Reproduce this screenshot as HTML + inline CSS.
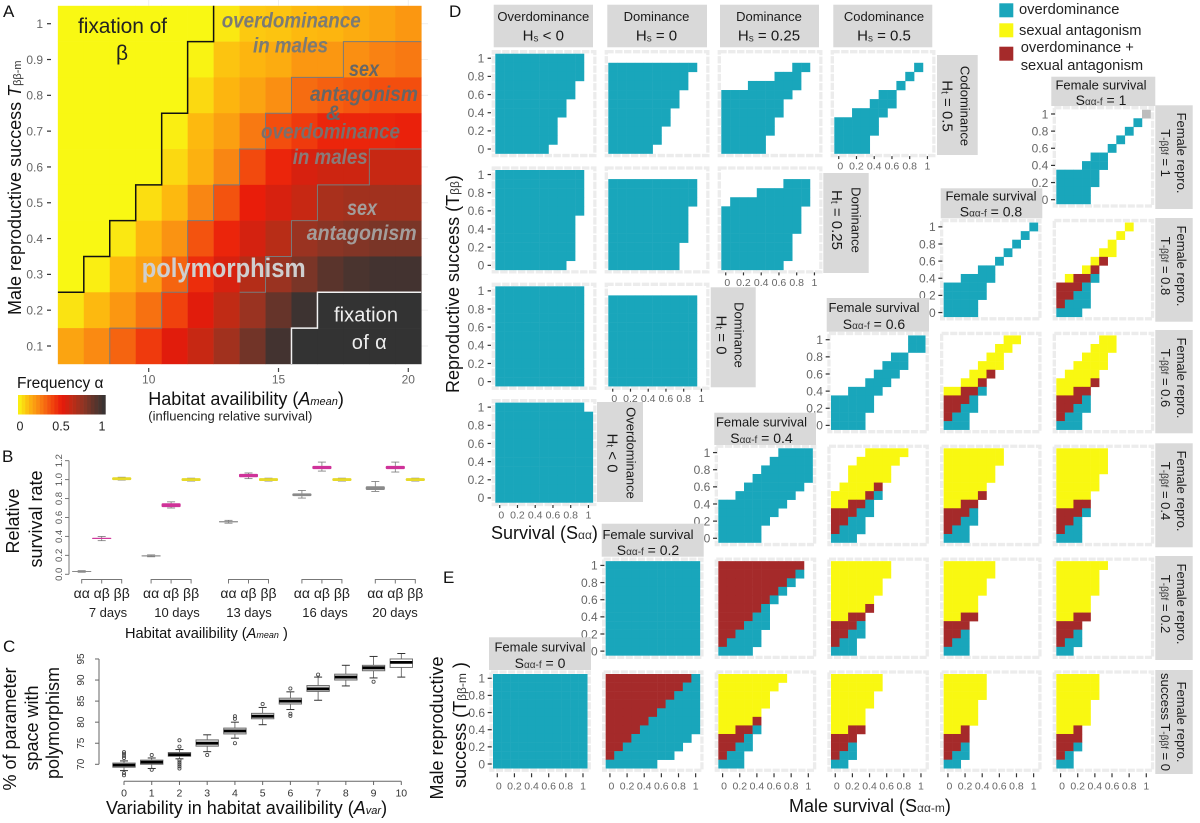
<!DOCTYPE html>
<html lang="en">
<head>
<meta charset="utf-8">
<title>Polymorphism parameter space figure</title>
<style>
html,body{margin:0;padding:0;background:#fff;}
#figure{display:block;width:1200px;height:823px;font-family:"Liberation Sans",sans-serif;filter:blur(0.35px);}
text{font-family:"Liberation Sans",sans-serif;}
.strip{fill:#d9d9d9;}
.st{font-size:13px;fill:#1a1a1a;text-anchor:middle;}
.sv{font-size:15px;fill:#1a1a1a;text-anchor:middle;}
.sf{font-size:14px;fill:#1a1a1a;text-anchor:middle;}
.sub{font-size:10px;fill:#333;}
.lab{fill:#111;font-size:18px;}
.rot{font-size:18px;fill:#111;text-anchor:middle;}
.ann{font-weight:bold;font-style:italic;font-size:21px;}
.leg{font-size:14.7px;fill:#222;}
.pl{font-size:17px;fill:#111;}
</style>
</head>
<body>
<svg id="figure" xmlns="http://www.w3.org/2000/svg" width="1200" height="823" viewBox="0 0 1200 823">
  <defs>
    <clipPath id="heat-clip"><rect x="57.8" y="5.8" width="363.5" height="358.2"/></clipPath>
  </defs>
  <rect x="0" y="0" width="1200" height="823" fill="#fff"/>
  <g id="panel-a"></g>
  <g id="panel-b"></g>
  <g id="panel-c"></g>
  <g id="panel-d"></g>
  <g id="panel-e"></g>

  <!-- panel letters -->
  <text class="pl" x="3" y="17">A</text>
  <text class="pl" x="2" y="462">B</text>
  <text class="pl" x="3" y="652">C</text>
  <text class="pl" x="449" y="17">D</text>
  <text class="pl" x="443" y="583">E</text>

  <!-- panel A annotations -->
  <g>
    <text x="78" y="33" font-size="21" fill="#222" textLength="89">fixation of</text>
    <text x="122" y="60" font-size="21" fill="#222" text-anchor="middle">β</text>
    <text class="ann" x="221.7" y="27.3" fill="#7b7b74" textLength="139" lengthAdjust="spacingAndGlyphs">overdominance</text>
    <text class="ann" x="253" y="52.7" fill="#7b7b74" textLength="75" lengthAdjust="spacingAndGlyphs">in males</text>
    <text class="ann" x="349" y="76" fill="#666" textLength="30" lengthAdjust="spacingAndGlyphs">sex</text>
    <text class="ann" x="310" y="101" fill="#666" textLength="108" lengthAdjust="spacingAndGlyphs">antagonism</text>
    <text class="ann" x="326" y="120" fill="#666">&amp;</text>
    <text class="ann" x="261" y="138.3" fill="#7b6f6c" textLength="139" lengthAdjust="spacingAndGlyphs">overdominance</text>
    <text class="ann" x="292.7" y="164" fill="#8a7a78" textLength="75" lengthAdjust="spacingAndGlyphs">in males</text>
    <text class="ann" x="347" y="215" fill="#a39d9b" textLength="30" lengthAdjust="spacingAndGlyphs">sex</text>
    <text class="ann" x="306.7" y="240" fill="#a39d9b" textLength="110" lengthAdjust="spacingAndGlyphs">antagonism</text>
    <text x="141.7" y="277" font-size="27" font-weight="bold" fill="#cfcfcf" textLength="164" lengthAdjust="spacingAndGlyphs">polymorphism</text>
    <text x="334" y="321.7" font-size="20" fill="#eee" textLength="64">fixation</text>
    <text x="351.7" y="349" font-size="20" fill="#eee" textLength="35">of α</text>
  </g>

  <!-- panel A axes text -->
  <text class="lab" transform="translate(21,315) rotate(-90)" font-size="18.3">Male reproductive success <tspan font-style="italic">T</tspan><tspan font-size="11" fill="#333">ββ-m</tspan></text>
  <text class="lab" x="148.3" y="405">Habitat availibility (<tspan font-style="italic">A</tspan><tspan font-style="italic" font-size="11">mean</tspan>)</text>
  <text x="148.3" y="420.5" font-size="13" fill="#222" textLength="164">(influencing relative survival)</text>
  <text x="17" y="388" font-size="15.5" fill="#111">Frequency α</text>

  <!-- panel B text -->
  <text class="rot" transform="translate(19,521) rotate(-90)">Relative</text>
  <text class="rot" transform="translate(42,519) rotate(-90)">survival rate</text>
  <text x="108" y="617" font-size="13" fill="#222" text-anchor="middle">7 days</text>
  <text x="177" y="617" font-size="13" fill="#222" text-anchor="middle">10 days</text>
  <text x="249" y="617" font-size="13" fill="#222" text-anchor="middle">13 days</text>
  <text x="325" y="617" font-size="13" fill="#222" text-anchor="middle">16 days</text>
  <text x="395" y="617" font-size="13" fill="#222" text-anchor="middle">20 days</text>
  <text x="125" y="638" font-size="14.6" fill="#111">Habitat availibility (<tspan font-style="italic">A</tspan><tspan font-style="italic" font-size="9">mean</tspan> )</text>

  <!-- panel C text -->
  <text class="rot" transform="translate(16,729) rotate(-90)">% of parameter</text>
  <text class="rot" transform="translate(38,728) rotate(-90)">space with</text>
  <text class="rot" transform="translate(59,723) rotate(-90)">polymorphism</text>
  <text class="lab" x="106" y="814">Variability in habitat availibility (<tspan font-style="italic">A</tspan><tspan font-style="italic" font-size="11">var</tspan>)</text>

  <!-- panel D top strips -->
  <g>
    <g><rect class="strip" x="493.7" y="4.7" width="99.3" height="42.6"/><text class="st" x="543.3" y="21">Overdominance</text><text class="sv" x="543.3" y="40.5">H<tspan class="sub" dy="1">s</tspan><tspan dy="-1"> &lt; 0</tspan></text></g>
    <g><rect class="strip" x="607.3" y="4.7" width="99.7" height="42.6"/><text class="st" x="656.5" y="21">Dominance</text><text class="sv" x="656.5" y="40.5">H<tspan class="sub" dy="1">s</tspan><tspan dy="-1"> = 0</tspan></text></g>
    <g><rect class="strip" x="720" y="4.7" width="99" height="42.6"/><text class="st" x="769" y="21">Dominance</text><text class="sv" x="769" y="40.5">H<tspan class="sub" dy="1">s</tspan><tspan dy="-1"> = 0.25</tspan></text></g>
    <g><rect class="strip" x="833.3" y="4.7" width="99" height="42.6"/><text class="st" x="884" y="21">Codominance</text><text class="sv" x="884" y="40.5">H<tspan class="sub" dy="1">s</tspan><tspan dy="-1"> = 0.5</tspan></text></g>
  </g>

  <!-- panel D side strips -->
  <g>
    <g><rect class="strip" x="937" y="55" width="40.7" height="100"/><text class="st" transform="translate(960.5,106) rotate(90)">Codominance</text><text class="sv" transform="translate(942.5,106) rotate(90)">H<tspan class="sub" dy="1">t</tspan><tspan dy="-1"> = 0.5</tspan></text></g>
    <g><rect class="strip" x="823.3" y="173" width="45.4" height="100"/><text class="st" transform="translate(851.5,220) rotate(90)">Dominance</text><text class="sv" transform="translate(832,220) rotate(90)">H<tspan class="sub" dy="1">t</tspan><tspan dy="-1"> = 0.25</tspan></text></g>
    <g><rect class="strip" x="710.7" y="287.3" width="45" height="100"/><text class="st" transform="translate(734.5,335) rotate(90)">Dominance</text><text class="sv" transform="translate(716.5,335) rotate(90)">H<tspan class="sub" dy="1">t</tspan><tspan dy="-1"> = 0</tspan></text></g>
    <g><rect class="strip" x="597" y="402" width="46" height="100"/><text class="st" transform="translate(626.5,453) rotate(90)">Overdominance</text><text class="sv" transform="translate(607.5,453) rotate(90)">H<tspan class="sub" dy="1">t</tspan><tspan dy="-1"> &lt; 0</tspan></text></g>
  </g>

  <!-- female survival strips -->
  <g>
    <g><rect class="strip" x="1051.3" y="76.7" width="104" height="29.3"/><text class="st" x="1101" y="89.5">Female survival</text><text class="sf" x="1101" y="105">S<tspan class="sub">αα-f</tspan> = 1</text></g>
    <g><rect class="strip" x="940.7" y="188.3" width="101.6" height="30"/><text class="st" x="991" y="200.5">Female survival</text><text class="sf" x="991" y="216.5">S<tspan class="sub">αα-f</tspan> = 0.8</text></g>
    <g><rect class="strip" x="826.7" y="298" width="102.3" height="33.7"/><text class="st" x="874" y="312">Female survival</text><text class="sf" x="874" y="329">S<tspan class="sub">αα-f</tspan> = 0.6</text></g>
    <g><rect class="strip" x="714.3" y="412.7" width="101.7" height="32.3"/><text class="st" x="761.5" y="426.5">Female survival</text><text class="sf" x="761.5" y="443">S<tspan class="sub">αα-f</tspan> = 0.4</text></g>
    <g><rect class="strip" x="601.7" y="523.7" width="102" height="33"/><text class="st" x="648" y="539">Female survival</text><text class="sf" x="648" y="555">S<tspan class="sub">αα-f</tspan> = 0.2</text></g>
    <g><rect class="strip" x="489" y="637.3" width="102" height="32.7"/><text class="st" x="540" y="651.5">Female survival</text><text class="sf" x="540" y="668">S<tspan class="sub">αα-f</tspan> = 0</text></g>
  </g>

  <!-- female repro strips -->
  <g>
    <g><rect class="strip" x="1155.3" y="105.3" width="37.4" height="103.7"/><text class="st" transform="translate(1177,153) rotate(90)">Female repro.</text><text class="st" transform="translate(1161,153) rotate(90)">T<tspan class="sub">-ββf</tspan> = 1</text></g>
    <g><rect class="strip" x="1155.3" y="218" width="37.4" height="103.7"/><text class="st" transform="translate(1177,266) rotate(90)">Female repro.</text><text class="st" transform="translate(1161,266) rotate(90)">T<tspan class="sub">-ββf</tspan> = 0.8</text></g>
    <g><rect class="strip" x="1155.3" y="330" width="37.4" height="103.3"/><text class="st" transform="translate(1177,378) rotate(90)">Female repro.</text><text class="st" transform="translate(1161,378) rotate(90)">T<tspan class="sub">-ββf</tspan> = 0.6</text></g>
    <g><rect class="strip" x="1155.3" y="443.3" width="37.4" height="104"/><text class="st" transform="translate(1177,491) rotate(90)">Female repro.</text><text class="st" transform="translate(1161,491) rotate(90)">T<tspan class="sub">-ββf</tspan> = 0.4</text></g>
    <g><rect class="strip" x="1155.3" y="556" width="37.4" height="104"/><text class="st" transform="translate(1177,604) rotate(90)">Female repro.</text><text class="st" transform="translate(1161,604) rotate(90)">T<tspan class="sub">-ββf</tspan> = 0.2</text></g>
    <g><rect class="strip" x="1155.3" y="670" width="37.4" height="104"/><text class="st" transform="translate(1177,722) rotate(90)">Female repro.</text><text class="st" transform="translate(1161,722) rotate(90)">success T<tspan class="sub">-ββf</tspan> = 0</text></g>
  </g>

  <!-- legend -->
  <g>
    <g><rect x="999.3" y="3.3" width="14" height="14" fill="#19a6bb"/><text class="leg" x="1019" y="14.2">overdominance</text></g>
    <g><rect x="999.3" y="23.3" width="14" height="14" fill="#f9f811"/><text class="leg" x="1019" y="35">sexual antagonism</text></g>
    <g><rect x="999.3" y="46.7" width="14" height="14" fill="#a52a2a"/><text class="leg" x="1020.7" y="52">overdominance +</text><text class="leg" x="1020.7" y="70">sexual antagonism</text></g>
  </g>

  <!-- grid axis titles -->
  <text class="lab" transform="translate(459,393) rotate(-90)">Reproductive success (T<tspan font-size="12" fill="#333">ββ</tspan>)</text>
  <text class="lab" x="491" y="539">Survival (S<tspan font-size="12" fill="#333">αα</tspan>)</text>
  <text class="rot" transform="translate(443,728) rotate(-90)">Male reproductive</text>
  <text class="rot" transform="translate(466,725) rotate(-90)">success  (T<tspan font-size="12" fill="#333">ββ-m</tspan> )</text>
  <text class="lab" x="789" y="812">Male survival (S<tspan font-size="12" fill="#333">αα-m</tspan>)</text>
</svg>

<script>
/* ---------- Panel A data ---------- */
const habitatDays = [7,8,9,10,11,12,13,14,15,16,17,18,19,20];
const maleRepro = [1,0.9,0.8,0.7,0.6,0.5,0.4,0.3,0.2,0.1];
const habitatTicks = [10,15,20];
const reproTickLabels = ["1","0.9","0.8","0.7","0.6","0.5","0.4","0.3","0.2","0.1"];
const freqT10 = [0,0,0,0,0,0,0.03,0.09,0.1,0.12,0.13,0.15,0.17,0.2];
const freqT09 = [0,0,0,0,0,0.01,0.1,0.13,0.15,0.2,0.2,0.22,0.25,0.27];
const freqT08 = [0,0,0,0,0,0.06,0.13,0.17,0.22,0.3,0.33,0.35,0.37,0.37];
const freqT07 = [0,0,0,0,0.02,0.12,0.18,0.27,0.37,0.42,0.47,0.47,0.47,0.48];
const freqT06 = [0,0,0,0,0.06,0.14,0.24,0.38,0.47,0.55,0.58,0.58,0.6,0.6];
const freqT05 = [0,0,0,0.05,0.12,0.24,0.36,0.49,0.55,0.6,0.68,0.7,0.7,0.7];
const freqT04 = [0,0,0.03,0.13,0.21,0.36,0.47,0.56,0.64,0.72,0.76,0.78,0.8,0.8];
const freqT03 = [0,0.02,0.12,0.18,0.32,0.45,0.55,0.65,0.72,0.8,0.88,0.93,0.95,0.95];
const freqT02 = [0.04,0.12,0.2,0.29,0.4,0.52,0.62,0.72,0.85,0.97,1,1,1,1];
const freqT01 = [0.17,0.23,0.32,0.42,0.52,0.6,0.7,0.82,0.95,1,1,1,1,1];
const freqRows = [freqT10,freqT09,freqT08,freqT07,freqT06,freqT05,freqT04,freqT03,freqT02,freqT01];
const fixBetaBoundary = [0.25,0.35,0.45,0.55,0.75,0.95,1.07,null,null,null,null,null,null,null];
const saBoundary = [null,0.03,0.15,0.15,0.25,0.45,0.55,0.65,0.75,0.85,0.85,0.95,0.95,0.95];
const saOnlyBoundary = [null,null,null,null,null,null,null,0.25,0.35,0.45,0.55,0.55,0.65,0.65];
const fixAlphaBoundary = [null,null,null,null,null,null,null,null,0.03,0.15,0.25,0.25,0.25,0.25];
const colorbarTickValues = [0,0.5,1];
const colorbarTickLabels = ["0","0.5","1"];

/* ---------- Panel B data ---------- */
const genotypes = ["αα","αβ","ββ"];
const survivalTicks = [0,0.2,0.4,0.6,0.8,1,1.2];
const survivalTickLabels = ["0.0","0.2","0.4","0.6","0.8","1.0","1.2"];
const survivalMedian = [[0.03,0.38,1.01],[0.195,0.73,1],[0.555,1.04,1],[0.84,1.13,1],[0.91,1.13,1]];
const survivalQ1 = [[0.025,0.377,0.995],[0.19,0.71,0.985],[0.55,1.025,0.985],[0.825,1.11,0.985],[0.89,1.11,0.985]];
const survivalQ3 = [[0.035,0.385,1.025],[0.2,0.75,1.015],[0.56,1.06,1.015],[0.855,1.145,1.015],[0.93,1.145,1.015]];
const survivalLow = [[0.022,0.355,0.995],[0.185,0.7,0.985],[0.54,1.01,0.985],[0.805,1.09,0.985],[0.875,1.08,0.985]];
const survivalHigh = [[0.038,0.4,1.025],[0.205,0.765,1.015],[0.57,1.07,1.015],[0.885,1.185,1.015],[0.98,1.185,1.015]];

/* ---------- Panel C data ---------- */
const variability = [0,1,2,3,4,5,6,7,8,9,10];
const polyTicks = [70,75,80,85,90,95];
const polyMedian = [69.8,70.5,72.3,75,77.9,81.4,85,87.9,90.7,92.9,94.2];
const polyQ1 = [69.3,70,71.9,74.3,77.2,80.8,84.3,87.3,90,92.2,93];
const polyQ3 = [70.3,71,72.8,75.8,78.6,82.1,85.7,88.7,91.4,93.5,95];
const polyLow = [68.5,69,71.3,73,76.2,79.4,83,85.2,88.6,90.5,90.7];
const polyHigh = [70.8,71.5,73.5,77,80,83.5,87.2,90.7,93.5,95.6,96.3];
const polyOutliers = [[67.4,67.9,71.5,72,72.5,72.9],[68.7,72.2],[69,69.5,70,70.5,71,74.2,75.7],[72.2],[75,80.8,81.4],[84.3],[81.5,82,88],[91.3],[],[89.6],[]];

/* ---------- Tile grid data: rows T=1..0, columns S=0..1 ---------- */
const tileTicks = [0,0.2,0.4,0.6,0.8,1];
const tileTickLabels = ["0","0.2","0.4","0.6","0.8","1"];
const tileFill = {o:"#19a6bb",y:"#f9f811",r:"#a52a2a",g:"#bdbdbd"};
const tileName = {o:"overdominance",y:"sexual-antagonism",r:"both",g:"none"};

const domA = ["oooooooooo.","oooooooooo.","oooooooooo.","ooooooooo..","ooooooooo..","oooooooo...","oooooooo...","ooooooo....","ooooooo....","ooooooo....","oooooo....."];
const domB = ["...........","oooooooooo.","ooooooooo..","ooooooooo..","oooooooo...","oooooooo...","ooooooo....","ooooooo....","oooooo.....","oooooo.....","ooooo......"];
const domC = ["...........","........oo.","......ooo..","...oooooo..","oooooooo...","ooooooo....","ooooooo....","oooooo.....","oooooo.....","ooooo......","ooooo......"];
const domD = ["...........",".........o.","........o..",".......o...",".....oo....","....ooo....","..oooo.....","ooooo......","ooooo......","oooo.......","oooo......."];
const domE = ["oooooooooo.","oooooooooo.","oooooooooo.","oooooooooo.","oooooooooo.","ooooooooo..","ooooooooo..","ooooooooo..","ooooooooo..","ooooooooo..","oooooooo..."];
const domF = ["...........","oooooooooo.","oooooooooo.","oooooooooo.","ooooooooo..","ooooooooo..","ooooooooo..","ooooooooo..","oooooooo...","oooooooo...","oooooooo..."];
const domG = ["...........",".......ooo.","....oooooo.",".ooooooooo.","ooooooooo..","ooooooooo..","ooooooooo..","oooooooo...","oooooooo...","oooooooo...","ooooooo...."];
const domH = ["oooooooooo.","oooooooooo.","oooooooooo.","oooooooooo.","oooooooooo.","oooooooooo.","oooooooooo.","oooooooooo.","oooooooooo.","oooooooooo.","oooooooooo."];
const domI = ["...........","oooooooooo.","oooooooooo.","oooooooooo.","oooooooooo.","oooooooooo.","oooooooooo.","oooooooooo.","oooooooooo.","oooooooooo.","oooooooooo."];
const domJ = ["oooooooooo.","ooooooooooo","ooooooooooo","ooooooooooo","ooooooooooo","ooooooooooo","ooooooooooo","ooooooooooo","ooooooooooo","ooooooooooo","ooooooooooo"];

const sexAllTeal = ["ooooooooooo","ooooooooooo","ooooooooooo","ooooooooooo","ooooooooooo","ooooooooooo","ooooooooooo","ooooooooooo","ooooooooooo","ooooooooooo","ooooooooooo"];
const sexR0C5 = ["..........g",".........o.","........o..",".......o...","......o....","....oo.....","...ooo.....","ooooo......","ooooo......","oooo.......","oooo......."];
const sexR1C4 = ["..........o",".........o.","........o..",".......o...","......o....","....oo.....","..oooo.....","ooooo......","ooooo......","oooo.......","oooo......."];
const sexR1C5 = ["........y..",".......y...","......y....",".....yy....","....yr.....","...yr......",".yrro......","rrro.......","rroo.......","rooo.......","ooo........"];
const sexR2C3 = [".........oo",".........oo",".......oo..","......ooo..",".....ooo...","....ooo....","..oooo.....","ooooo......","ooooo......","oooo.......","oooo......."];
const sexR2C4 = [".......yy..","......yy...",".....yy....","....yyy....","...yyr.....","..yyr......","yyrro......","rrro.......","rroo.......","roo........","ooo........"];
const sexR2C5 = [".....yy....","....yyy....","...yyy.....","..yyyy.....",".yyyy......","yyyyr......","yyrr.......","rrro.......","rroo.......","roo........","ooo........"];
const sexR3C2 = [".......oooo","......ooooo",".....oooooo","....ooooooo","...ooooooo.","..ooooooo..","oooooooo...","ooooooo....","oooooo.....","ooooo......","ooooo......"];
const sexR3C3 = ["....yyyyy..","...yyyyy...","..yyyyy....","..yyyyy....",".yyyyr.....","yyyyro.....","yyrro......","rrroo......","rroo.......","rooo.......","ooo........"];
const sexR3C4 = ["yyyyyyy....","yyyyyyy....","yyyyyy.....","yyyyyy.....","yyyyy......","yyyyr......","yyrr.......","rrro.......","rroo.......","roo........","ooo........"];
const sexR3C5 = ["yyyyyy.....","yyyyyy.....","yyyyyy.....","yyyyy......","yyyyy......","yyyy.......","yyrr.......","rrro.......","rro........","roo........","ooo........"];
const sexR4C2 = ["rrrrrrrrrr.","rrrrrrrrro.","rrrrrrrro..","rrrrrrro...","rrrrrro....","rrrrro.....","rrrroo.....","rrrooo.....","rrooo......","roooo......","oooo......."];
const sexR4C3 = ["yyyyyyy....","yyyyyyy....","yyyyyy.....","yyyyyy.....","yyyyy......","yyyyr......","yyrr.......","rrro.......","rroo.......","roo........","ooo........"];
const sexR4C4 = ["yyyyyy.....","yyyyyy.....","yyyyy......","yyyyy......","yyyy.......","yyyy.......","yyrr.......","rrr........","rro........","roo........","ooo........"];
const sexR4C5 = ["yyyyyy.....","yyyyy......","yyyyy......","yyyyy......","yyyy.......","yyyy.......","yyrr.......","rrr........","rro........","roo........","oo........."];
const sexR5C1 = ["rrrrrrrrrro","rrrrrrrrroo","rrrrrrrrooo","rrrrrrroooo","rrrrrrooooo","rrrrroooooo","rrrrooooooo","rrrooooooo.","rrooooooo..","rooooooo...","oooooo....."];
const sexR5C2 = ["yyyyyyyy...","yyyyyyy....","yyyyyy.....","yyyyyy.....","yyyyy......","yyyyr......","yyrro......","rrro.......","rroo.......","roo........","ooo........"];
const sexR5C3 = ["yyyyyy.....","yyyyyy.....","yyyyy......","yyyyy......","yyyy.......","yyyy.......","yyrr.......","rrr........","rro........","roo........","oo........."];
const sexR5C4 = ["yyyyy......","yyyyy......","yyyyy......","yyyy.......","yyyy.......","yyyy.......","yyr........","rrr........","rro........","roo........","oo........."];
const sexR5C5 = ["yyyyy......","yyyyy......","yyyyy......","yyyy.......","yyyy.......","yyyy.......","yyr........","rrr........","rro........","ro.........","oo........."];

const svgNS = "http://www.w3.org/2000/svg";
function add(tag, attrs, name, parent, content) {
  const el = document.createElementNS(svgNS, tag);
  for (const k in attrs) el.setAttribute(k, attrs[k]);
  
  
  if (content !== undefined) el.textContent = content;
  parent.appendChild(el);
  return el;
}
function hexRgb(h){return [parseInt(h.substr(1,2),16),parseInt(h.substr(3,2),16),parseInt(h.substr(5,2),16)];}
function freqColor(f){
  const pos=[0,0.12,0.25,0.38,0.5,0.62,0.75,0.88,1];
  const hex=["#f9f813","#fdb90f","#f98213","#f24a0e","#e8190a","#c02b15","#8e3524","#5a342c","#333333"];
  let i=0; while(i<pos.length-2 && f>pos[i+1]) i++;
  const t=(f-pos[i])/(pos[i+1]-pos[i]);
  const a=hexRgb(hex[i]), b=hexRgb(hex[i+1]);
  return "rgb("+a.map((v,k)=>Math.round(v+(b[k]-v)*t)).join(",")+")";
}

/* ---------- Panel A ---------- */
(function(){
  const g=document.getElementById('panel-a');
  const xA=a=>148.7+(a-10)*25.96;
  const yA=t=>346-(t-0.1)*358.1;
  const cw=25.96, ch=35.81;
  habitatTicks.forEach(a=>{
    add('line',{x1:xA(a),x2:xA(a),y1:0,y2:5.8,stroke:'#efefef','stroke-width':1},'grid-top-'+a,g);
    add('line',{x1:xA(a),x2:xA(a),y1:368,y2:372,stroke:'#444','stroke-width':1.2},'x-tick-'+a,g);
    add('text',{x:xA(a),y:383.5,'font-size':12,fill:'#666','text-anchor':'middle'},'x-tick-label-'+a,g,String(a));
  });
  maleRepro.forEach((t,r)=>{
    add('line',{x1:421.3,x2:428,y1:yA(t),y2:yA(t),stroke:'#efefef','stroke-width':1},'grid-right-'+t,g);
    add('line',{x1:47,x2:51,y1:yA(t),y2:yA(t),stroke:'#333','stroke-width':1.2},'y-tick-'+t,g);
    add('text',{x:43,y:yA(t)+4.3,'font-size':12,fill:'#666','text-anchor':'end'},'y-tick-label-'+t,g,reproTickLabels[r]);
    habitatDays.forEach((a,c)=>{
      add('rect',{x:xA(a)-cw/2,y:yA(t)-ch/2,width:cw+0.3,height:ch+0.3,fill:freqColor(freqRows[r][c])},'heat-cell',g);
    });
  });
  function stair(vals,color,w,name){
    const pts=[];
    vals.forEach((v,c)=>{
      if(v===null) return;
      pts.push((xA(habitatDays[c])-cw/2)+','+yA(v));
      pts.push((xA(habitatDays[c])+cw/2)+','+yA(v));
    });
    add('polyline',{points:pts.join(' '),fill:'none',stroke:color,'stroke-width':w,'clip-path':'url(#heat-clip)'},name,g);
  }
  stair(saBoundary,'#7a7a7a',1,'sexual-antagonism-boundary');
  stair(saOnlyBoundary,'#7a7a7a',1,'sexual-antagonism-only-boundary');
  stair(fixBetaBoundary,'#111',1.5,'fixation-beta-boundary');
  stair(fixAlphaBoundary,'#f2f2f2',1.5,'fixation-alpha-boundary');
  /* colorbar */
  const cbX=f=>20+f*82, n=24;
  for(let i=0;i<n;i++){
    const f0=i/n;
    add('rect',{x:18+f0*87.4,y:395,width:87.4/n+0.3,height:19.5,fill:freqColor(Math.min(1,(i+0.5)/n))},'colorbar-segment',g);
  }
  colorbarTickValues.forEach((f,i)=>{
    add('text',{x:cbX(f),y:430.5,'font-size':12.5,fill:'#222','text-anchor':'middle'},'colorbar-tick-label',g,colorbarTickLabels[i]);
  });
})();

/* ---------- Panel B ---------- */
(function(){
  const g=document.getElementById('panel-b');
  const xB=i=>101.7+73.4*i-(i===1?4:0);
  const yB=v=>574.3-v*94.7;
  const gx=j=>(j-1)*20;
  const colors=["#8a8a8a","#cf3399","#e6d92a"];
  const colorNames=["aa","ab","bb"];
  add('line',{x1:69,x2:69,y1:yB(0),y2:yB(1.2),stroke:'#777','stroke-width':1},'y-axis-line',g);
  survivalTicks.forEach((v,i)=>{
    add('line',{x1:65,x2:69,y1:yB(v),y2:yB(v),stroke:'#777','stroke-width':1},'y-tick',g);
    add('text',{transform:'translate(62,'+yB(v)+') rotate(-90)','font-size':9.5,fill:'#555','text-anchor':'middle'},'y-tick-label',g,survivalTickLabels[i]);
  });
  survivalMedian.forEach((grp,i)=>{
    const cx=xB(i);
    add('path',{d:'M'+(cx+gx(0))+' 583.5V579.5H'+(cx+gx(2))+'V583.5M'+cx+' 579.5V583.5',fill:'none',stroke:'#777','stroke-width':1},'group-bracket',g);
    grp.forEach((m,j)=>{
      const x=cx+gx(j);
      add('line',{x1:x,x2:x,y1:yB(survivalLow[i][j]),y2:yB(survivalHigh[i][j]),stroke:'#777','stroke-width':0.8},'whisker',g);
      add('line',{x1:x-4,x2:x+4,y1:yB(survivalLow[i][j]),y2:yB(survivalLow[i][j]),stroke:'#777','stroke-width':0.8},'whisker-cap-low',g);
      add('line',{x1:x-4,x2:x+4,y1:yB(survivalHigh[i][j]),y2:yB(survivalHigh[i][j]),stroke:'#777','stroke-width':0.8},'whisker-cap-high',g);
      const top=yB(survivalQ3[i][j]), h=Math.max(1,yB(survivalQ1[i][j])-top);
      add('rect',{x:x-9.5,y:top,width:19,height:h,rx:1,fill:colors[j]},'box-'+colorNames[j],g);
      add('line',{x1:x-9.5,x2:x+9.5,y1:yB(m),y2:yB(m),stroke:colors[j],'stroke-width':1},'median-'+colorNames[j],g);
      add('text',{x:x,y:598,'font-size':14,fill:'#222','text-anchor':'middle'},'genotype-label',g,genotypes[j]);
    });
  });
})();

/* ---------- Panel C ---------- */
(function(){
  const g=document.getElementById('panel-c');
  const xC=v=>124+v*27.73;
  const yC=v=>764.3-(v-70)*4.213;
  add('line',{x1:99,x2:99,y1:yC(70),y2:yC(95),stroke:'#666','stroke-width':1},'y-axis-line',g);
  polyTicks.forEach(v=>{
    add('line',{x1:95,x2:99,y1:yC(v),y2:yC(v),stroke:'#666','stroke-width':1},'y-tick',g);
    add('text',{transform:'translate(84,'+yC(v)+') rotate(-90)','font-size':10,fill:'#333','text-anchor':'middle'},'y-tick-label',g,String(v));
  });
  add('line',{x1:xC(0),x2:xC(10),y1:781.3,y2:781.3,stroke:'#666','stroke-width':1},'x-axis-line',g);
  variability.forEach((v,i)=>{
    const x=xC(v);
    add('line',{x1:x,x2:x,y1:781.3,y2:785,stroke:'#666','stroke-width':1},'x-tick',g);
    add('text',{x:x,y:796.5,'font-size':10.5,fill:'#333','text-anchor':'middle'},'x-tick-label',g,String(v));
    add('line',{x1:x,x2:x,y1:yC(polyLow[i]),y2:yC(polyHigh[i]),stroke:'#555','stroke-width':0.8},'whisker',g);
    add('line',{x1:x-4,x2:x+4,y1:yC(polyLow[i]),y2:yC(polyLow[i]),stroke:'#333','stroke-width':1},'whisker-cap-low',g);
    add('line',{x1:x-4,x2:x+4,y1:yC(polyHigh[i]),y2:yC(polyHigh[i]),stroke:'#333','stroke-width':1},'whisker-cap-high',g);
    add('rect',{x:x-11.2,y:yC(polyQ3[i]),width:22.4,height:yC(polyQ1[i])-yC(polyQ3[i]),fill:i===10?'#fff':'#d4d4d4',stroke:'#666','stroke-width':0.9},'box',g);
    add('line',{x1:x-11.2,x2:x+11.2,y1:yC(polyMedian[i]),y2:yC(polyMedian[i]),stroke:'#000','stroke-width':2.8},'median',g);
    polyOutliers[i].forEach(o=>{
      add('circle',{cx:x,cy:yC(o),r:1.6,fill:'none',stroke:'#444','stroke-width':0.8},'outlier',g);
    });
  });
})();

/* ---------- Tile grids ---------- */
function tilePanel(parent,name,rows,left,top,cw,ch,opt){
  const g=add('g',{},name,parent);
  const sx=s=>left+(s*10+0.5)*cw;
  const sy=t=>top+((1-t)*10+0.5)*ch;
  const w=cw*11,h=ch*11;
  add('rect',{x:left-2,y:top-2,width:w+4,height:h+4,fill:'none',stroke:'#ececec','stroke-width':3.3,'stroke-dasharray':(cw-1.5)+' 1.5'},name+'-background',g);
  rows.forEach((row,r)=>{
    const t=1-r/10;
    row.split('').forEach((ch2,c)=>{
      if(ch2==='.') return;
      const s=c/10;
      add('rect',{x:sx(s)-cw/2,y:sy(t)-ch/2,width:cw+0.25,height:ch+0.25,fill:tileFill[ch2]},'tile-'+tileName[ch2],g);
    });
  });
  if(opt.y){
    tileTicks.forEach((t,i)=>{
      add('line',{x1:left-opt.y.t0,x2:left-opt.y.t1,y1:sy(t),y2:sy(t),stroke:'#333','stroke-width':1.2},'y-tick',g);
      add('text',{x:left-opt.y.l,y:sy(t)+4.3,'font-size':12,fill:'#666','text-anchor':'end'},'y-tick-label',g,tileTickLabels[i]);
    });
  }
  if(opt.x){
    tileTicks.forEach((s,i)=>{
      add('line',{x1:sx(s),x2:sx(s),y1:top+h+opt.x.t0,y2:top+h+opt.x.t1,stroke:'#333','stroke-width':1.2},'x-tick',g);
      add('text',{x:sx(s)+(i===0?1.5:0),y:top+h+opt.x.l,'font-size':10.5,fill:'#666','text-anchor':'middle'},'x-tick-label',g,tileTickLabels[i]);
    });
  }
}
(function(){
  const g=document.getElementById('panel-d');
  const layout=[[domA,0,0],[domB,0,1],[domC,0,2],[domD,0,3],[domE,1,0],[domF,1,1],[domG,1,2],[domH,2,0],[domI,2,1],[domJ,3,0]];
  layout.forEach(p=>{
    const r=p[1],c=p[2];
    tilePanel(g,'dominance-panel-r'+r+'-c'+c,p[0],495.3+113*c,53.7+116.3*r,8.87,9.08,{
      y:c===0?{t0:7.7,t1:4.3,l:11}:null,
      x:(r+c===3)?{t0:2.5,t1:5.5,l:16}:null
    });
  });
})();
(function(){
  const g=document.getElementById('panel-e');
  const layout=[
    [sexR0C5,0,5],
    [sexR1C4,1,4],[sexR1C5,1,5],
    [sexR2C3,2,3],[sexR2C4,2,4],[sexR2C5,2,5],
    [sexR3C2,3,2],[sexR3C3,3,3],[sexR3C4,3,4],[sexR3C5,3,5],
    [sexAllTeal,4,1],[sexR4C2,4,2],[sexR4C3,4,3],[sexR4C4,4,4],[sexR4C5,4,5],
    [sexAllTeal,5,0],[sexR5C1,5,1],[sexR5C2,5,2],[sexR5C3,5,3],[sexR5C4,5,4],[sexR5C5,5,5]
  ];
  layout.forEach(p=>{
    const r=p[1],c=p[2];
    tilePanel(g,'female-survival-panel-r'+r+'-c'+c,p[0],493+112.66*c,109.7+112.86*r,8.57,8.57,{
      y:(r+c===5)?{t0:5.3,t1:1.3,l:8}:null,
      x:(r===5)?{t0:5,t1:9,l:21}:null
    });
  });
})();
</script>
</body>
</html>
